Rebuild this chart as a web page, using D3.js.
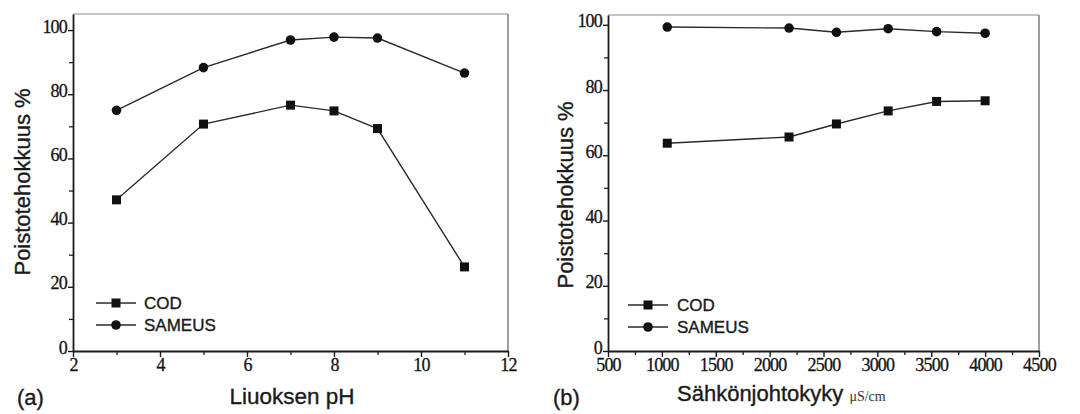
<!DOCTYPE html>
<html><head><meta charset="utf-8">
<script src="https://cdn.jsdelivr.net/npm/d3@7/dist/d3.min.js"></script>
<style>
body{margin:0;background:#fff;}
svg{display:block;}
.lab{font-family:"Liberation Sans",Arial,sans-serif;fill:#1a1a1a;stroke:#1a1a1a;stroke-width:0.35;}
</style></head>
<body>
<svg id="c" width="1080" height="414"></svg>
<script>
// ---- Data ----
const phValues = [3, 5, 7, 8, 9, 11];
const codPh = [47.1, 70.7, 76.6, 74.8, 69.3, 26.2];
const sameusPh = [75.0, 88.3, 96.9, 97.8, 97.5, 86.6];

const condValues = [1050, 2180, 2620, 3100, 3550, 4000];
const codCond = [63.7, 65.6, 69.6, 73.6, 76.5, 76.7];
const sameusCond = [99.3, 99.0, 97.7, 98.8, 97.9, 97.4];

const seriesNames = ["COD", "SAMEUS"];
const yTicks = [0, 20, 40, 60, 80, 100];
const yMinor = [10, 30, 50, 70, 90];
const phTicks = [2, 4, 6, 8, 10, 12];
const phMinor = [3, 5, 7, 9, 11];
const condTicks = [500, 1000, 1500, 2000, 2500, 3000, 3500, 4000, 4500];
const condMinor = [750, 1250, 1750, 2250, 2750, 3250, 3750, 4250];

const svg = d3.select("#c");

function styleTicks(a) {
  a.attr("font-family", null).attr("font-size", null);
  a.selectAll(".tick text")
    .style("font-family", "'Liberation Serif','Times New Roman',serif")
    .style("font-size", "18px")
    .style("letter-spacing", "-0.8px")
    .style("fill", "#151515")
    .style("stroke", "#151515")
    .style("stroke-width", "0.3px");
}

function panel(opt) {
  const x = d3.scaleLinear().domain(opt.xDomain).range([opt.x0, opt.x1]);
  const y = d3.scaleLinear().domain(opt.yDomain).range([opt.y1, opt.y0]);
  const g = svg.append("g");

  // frame (top/right lighter)
  g.append("line").attr("x1", opt.x0).attr("x2", opt.x1).attr("y1", opt.y0).attr("y2", opt.y0)
    .attr("stroke", "#8a8a8a").attr("stroke-width", 1.2);
  g.append("line").attr("x1", opt.x1).attr("x2", opt.x1).attr("y1", opt.y0).attr("y2", opt.y1)
    .attr("stroke", "#6a6a6a").attr("stroke-width", 1.3);

  // minor ticks
  g.append("g").attr("transform", `translate(0,${opt.y1})`)
    .call(d3.axisBottom(x).tickValues(opt.xMinor).tickSize(4).tickFormat(""))
    .call(a => a.select(".domain").remove())
    .selectAll("line").attr("stroke", "#222").attr("stroke-width", 1.3);
  g.append("g").attr("transform", `translate(${opt.x0},0)`)
    .call(d3.axisLeft(y).tickValues(yMinor).tickSize(4).tickFormat(""))
    .call(a => a.select(".domain").remove())
    .selectAll("line").attr("stroke", "#222").attr("stroke-width", 1.3);

  // major axes
  const xa = g.append("g").attr("transform", `translate(0,${opt.y1})`)
    .call(d3.axisBottom(x).tickValues(opt.xTicks).tickSize(6).tickSizeOuter(0).tickPadding(2).tickFormat(d3.format("d")));
  const ya = g.append("g").attr("transform", `translate(${opt.x0},0)`)
    .call(d3.axisLeft(y).tickValues(yTicks).tickSize(5).tickSizeOuter(0).tickPadding(1).tickFormat(d3.format("d")));
  [xa, ya].forEach(a => {
    styleTicks(a);
    a.select(".domain").attr("stroke", "#1a1a1a").attr("stroke-width", 1.8);
    a.selectAll(".tick line").attr("stroke", "#1a1a1a").attr("stroke-width", 1.4);
  });
  xa.selectAll(".tick text").attr("dy", "0.68em");
  ya.selectAll(".tick text").attr("dy", "0.12em");

  // series
  const line = d3.line().x(d => x(d[0])).y(d => y(d[1]));
  const cod = opt.xs.map((v, i) => [v, opt.cod[i]]);
  const sam = opt.xs.map((v, i) => [v, opt.sam[i]]);
  [cod, sam].forEach(s => g.append("path").datum(s).attr("d", line)
    .attr("fill", "none").attr("stroke", "#2a2a2a").attr("stroke-width", 1.4));
  g.selectAll(".sq").data(cod).join("rect")
    .attr("x", d => x(d[0]) - 4.5).attr("y", d => y(d[1]) - 4.5)
    .attr("width", 9).attr("height", 9).attr("fill", "#111");
  g.selectAll(".ci").data(sam).join("circle")
    .attr("cx", d => x(d[0])).attr("cy", d => y(d[1])).attr("r", 4.8).attr("fill", "#111");

  // legend
  const lg = g.append("g");
  seriesNames.forEach((name, i) => {
    const ly = opt.legY + i * 22;
    lg.append("line").attr("x1", opt.legX).attr("x2", opt.legX + 40).attr("y1", ly).attr("y2", ly)
      .attr("stroke", "#2a2a2a").attr("stroke-width", 1.4);
    if (i === 0) lg.append("rect").attr("x", opt.legX + 20 - 4.5).attr("y", ly - 4.5).attr("width", 9).attr("height", 9).attr("fill", "#111");
    else lg.append("circle").attr("cx", opt.legX + 20).attr("cy", ly).attr("r", 4.8).attr("fill", "#111");
    lg.append("text").attr("class", "lab").attr("x", opt.legTextX).attr("y", ly + 6)
      .attr("font-size", 17).text(name);
  });

  // y label
  svg.append("text").attr("class", "lab").attr("font-size", 22)
    .attr("transform", `translate(${opt.yLabX},${opt.yLabY}) rotate(-90)`)
    .attr("text-anchor", "middle").text("Poistotehokkuus %");
  // panel letter
  svg.append("text").attr("class", "lab").attr("font-size", 22)
    .attr("x", opt.letX).attr("y", 405).text(opt.letter);
}

panel({
  xDomain: [2, 12], yDomain: [0, 105], x0: 73, x1: 508, y0: 14, y1: 351,
  xTicks: phTicks, xMinor: phMinor, xs: phValues, cod: codPh, sam: sameusPh,
  legX: 96, legY: 303, legTextX: 144, yLabX: 30, yLabY: 182, letX: 17, letter: "(a)"
});
svg.append("text").attr("class", "lab").attr("font-size", 22.5)
  .attr("x", 292).attr("y", 404).attr("text-anchor", "middle").text("Liuoksen pH");

panel({
  xDomain: [500, 4500], yDomain: [0, 103], x0: 608, x1: 1039, y0: 15, y1: 351,
  xTicks: condTicks, xMinor: condMinor, xs: condValues, cod: codCond, sam: sameusCond,
  legX: 628, legY: 305, legTextX: 677, yLabX: 573, yLabY: 195, letX: 553, letter: "(b)"
});
const xl = svg.append("text").attr("class", "lab").attr("font-size", 22).attr("x", 677).attr("y", 401);
xl.append("tspan").text("Sähkönjohtokyky ");
xl.append("tspan").attr("font-family", "'Liberation Serif',serif").attr("font-size", 14)
  .style("stroke-width", 0).attr("fill", "#333").text("μS/cm");
</script>
</body></html>
